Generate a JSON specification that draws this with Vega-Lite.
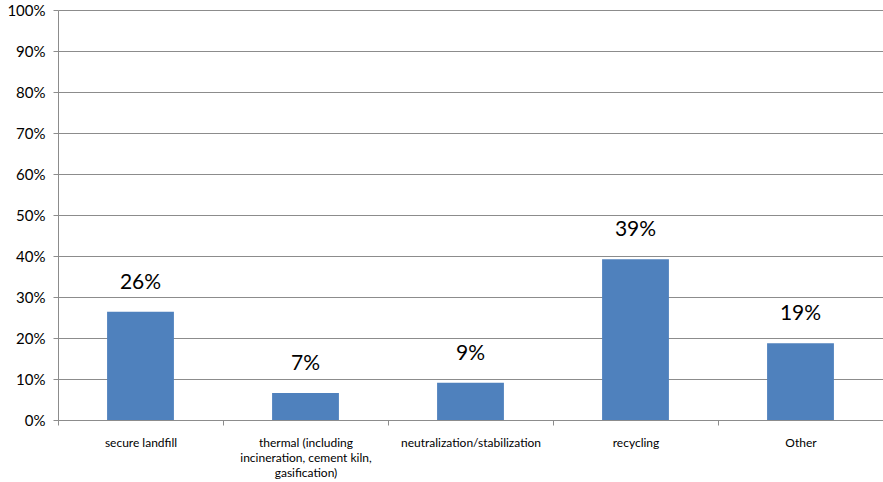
{
  "$schema": "https://vega.github.io/schema/vega-lite/v6.json",
  "width": 825,
  "height": 410,
  "autosize": {"type": "none"},
  "padding": {"left": 58, "top": 10, "right": 0, "bottom": 62},
  "background": "white",
  "config": {"view": {"stroke": null}, "font": "Lato"},
  "data": {
    "values": [
      {"category": "secure landfill", "value": 0.264},
      {"category": "thermal (including|incineration, cement kiln,|gasification)", "value": 0.066},
      {"category": "neutralization/stabilization", "value": 0.091},
      {"category": "recycling", "value": 0.392},
      {"category": "Other", "value": 0.187}
    ]
  },
  "encoding": {
    "x": {
      "field": "category",
      "type": "nominal",
      "sort": null,
      "scale": {"paddingInner": 0.595, "paddingOuter": 0.2975},
      "axis": {
        "title": null,
        "labelAngle": 0,
        "labelExpr": "split(datum.label, '|')",
        "labelFont": "Lato",
        "labelFontSize": 12,
        "labelColor": "#000000",
        "labelLineHeight": 15,
        "labelPadding": 12,
        "labelBaseline": "top",
        "tickOffset": -82.5,
        "labelOffset": 82.5,
        "domainColor": "#8c8c8c",
        "tickColor": "#8c8c8c",
        "tickSize": 5,
        "grid": false
      }
    },
    "y": {
      "field": "value",
      "type": "quantitative",
      "scale": {"domain": [0, 1], "nice": false},
      "axis": {
        "title": null,
        "format": ".0%",
        "values": [0, 0.1, 0.2, 0.3, 0.4, 0.5, 0.6, 0.7, 0.8, 0.9, 1],
        "labelOverlap": false,
        "labelFont": "Lato",
        "labelFontSize": 15,
        "labelColor": "#000000",
        "labelPadding": 8,
        "domainColor": "#8c8c8c",
        "tickColor": "#8c8c8c",
        "tickSize": 5,
        "gridColor": "#8c8c8c",
        "gridWidth": 1,
        "gridOpacity": 1
      }
    }
  },
  "layer": [
    {"mark": {"type": "bar", "color": "#4f81bd"}},
    {
      "mark": {"type": "text", "dy": -23, "baseline": "alphabetic", "fontSize": 21, "color": "#000000", "font": "Lato"},
      "encoding": {"text": {"field": "value", "type": "quantitative", "format": ".0%"}}
    }
  ]
}
